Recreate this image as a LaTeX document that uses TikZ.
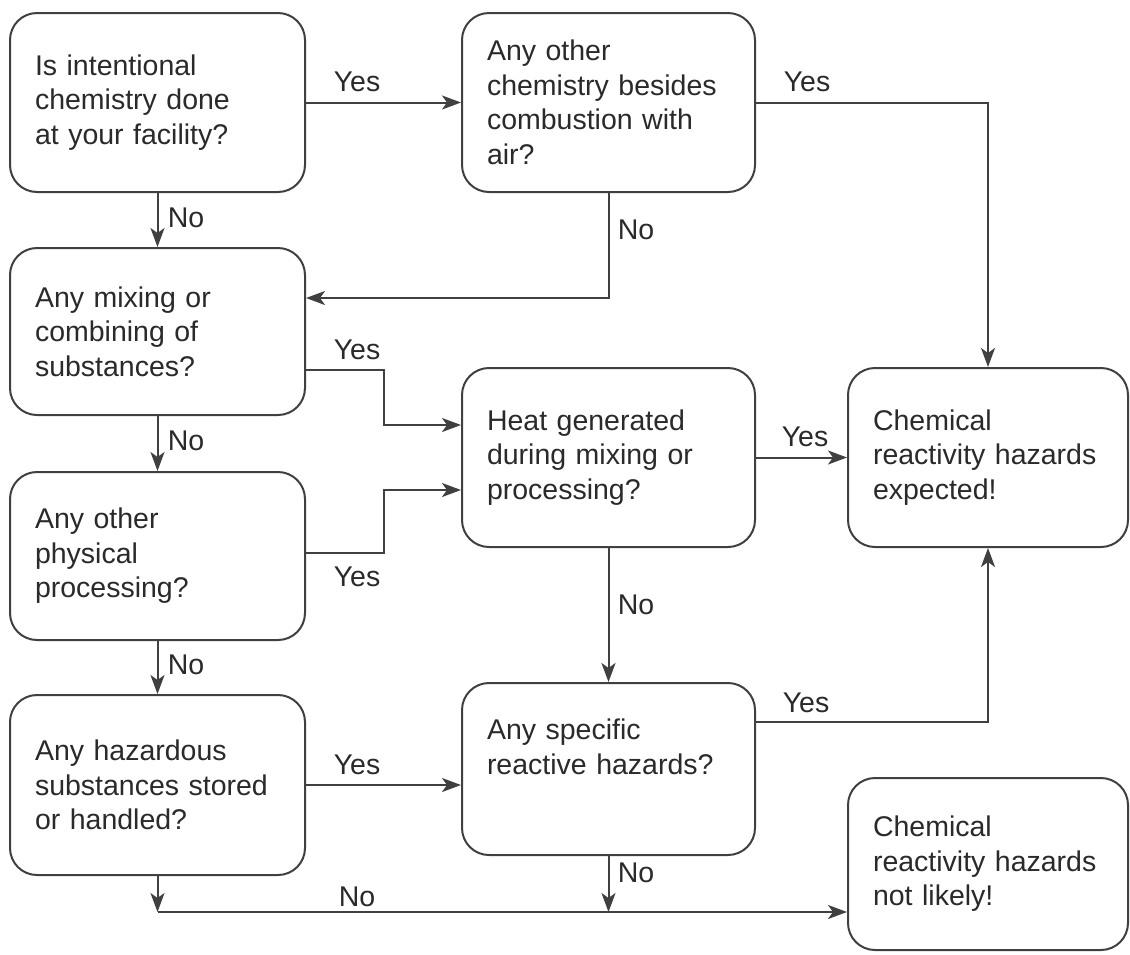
\documentclass[tikz,border=0pt]{standalone}
\usepackage{fontspec}
\setmainfont{Liberation Sans}
\usetikzlibrary{arrows.meta}
\definecolor{linegray}{HTML}{404040}
\definecolor{txtgray}{HTML}{2A2A2A}
\begin{document}
\begin{tikzpicture}[x=1pt,y=-1pt,
  box/.style={draw=linegray, line width=2pt, rounded corners=27pt, fill=white,
    inner xsep=25pt, inner ysep=4pt, align=left, text=txtgray,
    font=\fontsize{28.5}{34.5}\selectfont},
  lbl/.style={text=txtgray, inner sep=0pt, font=\fontsize{28.5}{34.5}\selectfont},
  conn/.style={draw=linegray, line width=2pt},
  arr/.style={conn, -{Stealth[length=19pt, width=14pt, inset=5pt]}}
]
\useasboundingbox[fill=white] (0,0) rectangle (1130,954);

\node[box, text width=245pt, minimum height=179pt] (A) at (157.5,102.5)
  {Is intentional\\chemistry done\\at your facility?};
\node[box, text width=243pt, minimum height=179pt] (B) at (608.5,102.5)
  {Any other\\chemistry besides\\combustion with\\air?};
\node[box, text width=245pt, minimum height=167pt] (C) at (157.5,331.5)
  {Any mixing or\\combining of\\substances?};
\node[box, text width=245pt, minimum height=168pt] (D) at (157.5,556)
  {Any other\\physical\\processing?};
\node[box, text width=245pt, minimum height=180pt] (E) at (157.5,785)
  {Any hazardous\\substances stored\\or handled?};
\node[box, text width=243pt, minimum height=179pt] (F) at (608.5,457.5)
  {Heat generated\\during mixing or\\processing?};
\node[box, text width=243pt, minimum height=172pt] (G) at (608.5,769)
  {Any specific\\reactive hazards?\\\strut};
\node[box, text width=230pt, minimum height=179pt] (H) at (988,457.5)
  {Chemical\\reactivity hazards\\expected!};
\node[box, text width=230pt, minimum height=172pt] (I) at (988,864)
  {Chemical\\reactivity hazards\\not likely!};

\coordinate (j1) at (157.5,912);
\coordinate (j2) at (608.5,912);

% connectors
\draw[arr] (A.east) -- (B.west);
\draw[arr] (A.south) -- (C.north);
\draw[arr] (B.east) -| (H.north);
\draw[arr] (B.south) |- ([yshift=33.5pt]C.east);
\draw[arr] ([yshift=-38.5pt]C.east) -- ++(78,0) |- ([yshift=32.5pt]F.west);
\draw[arr] (C.south) -- (D.north);
\draw[arr] ([yshift=3pt]D.east) -- ++(78,0) |- ([yshift=-32.5pt]F.west);
\draw[arr] (D.south) -- (E.north);
\draw[arr] (F.east) -- (H.west);
\draw[arr] (F.south) -- (G.north);
\draw[arr] ([yshift=47pt]G.east) -| (H.south);
\draw[arr] (E.east) -- (E.east -| G.west);
\draw[arr] (E.south) -- (j1);
\draw[arr] (G.south) -- (j2);
\draw[arr] (j1) -- (j1 -| I.west);

% labels
\node[lbl] (y1) at (357,82) {Yes};
\node[lbl] (n1) at (186,218) {No};
\node[lbl] (y2) at (807,82) {Yes};
\node[lbl] (n2) at (636,230) {No};
\node[lbl] (y3) at (357,350) {Yes};
\node[lbl] (n3) at (186,441) {No};
\node[lbl] (y4) at (357,577) {Yes};
\node[lbl] (n4) at (186,665) {No};
\node[lbl] (y5) at (805,437) {Yes};
\node[lbl] (n5) at (636,605) {No};
\node[lbl] (y6) at (806,703) {Yes};
\node[lbl] (y7) at (357,765) {Yes};
\node[lbl] (n6) at (357,897) {No};
\node[lbl] (n7) at (636,873) {No};
\end{tikzpicture}
\end{document}
